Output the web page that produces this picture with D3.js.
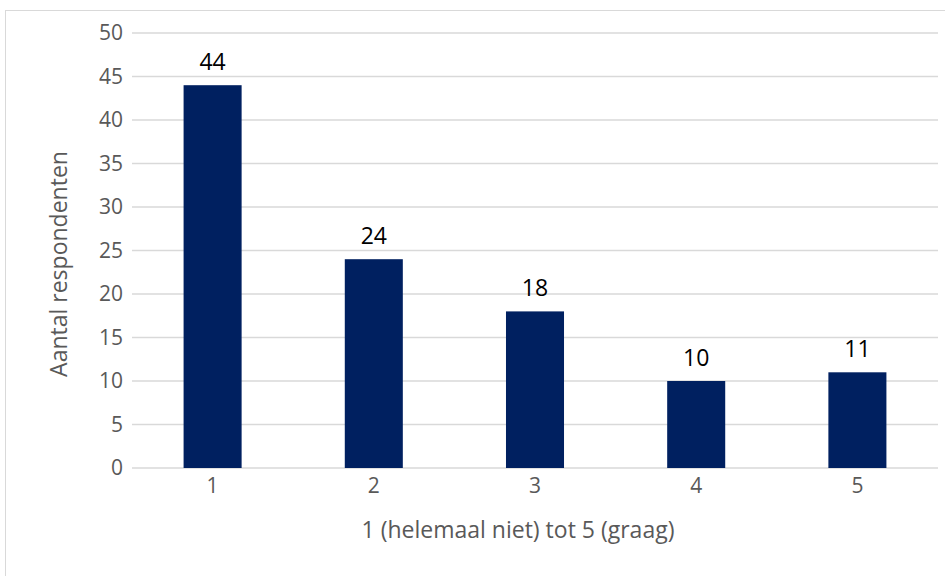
<!DOCTYPE html>
<html>
<head>
<meta charset="utf-8">
<script src="https://cdn.jsdelivr.net/npm/d3@7"></script>
<style>
  body { margin: 0; background: #fff; }
  text { font-family: "Open Sans", sans-serif; }
</style>
</head>
<body>
<div id="container"></div>
<script>
const categories = ["1", "2", "3", "4", "5"];
const values = [44, 24, 18, 10, 11];
const yTicks = [0, 5, 10, 15, 20, 25, 30, 35, 40, 45, 50];
const xTitle = "1 (helemaal niet) tot 5 (graag)";
const yTitle = "Aantal respondenten";

const W = 945;
const H = 576;
const margin = { top: 33, right: 7, bottom: 108, left: 132 };
const width = W - margin.left - margin.right;
const height = H - margin.top - margin.bottom;

const svg = d3
  .select("#container")
  .append("svg")
  .attr("width", W)
  .attr("height", H);

// chart frame
svg
  .append("rect")
  .attr("x", 5.5)
  .attr("y", 10.5)
  .attr("width", W + 10)
  .attr("height", H + 10)
  .attr("fill", "none")
  .attr("stroke", "#d9d9d9")
  .attr("stroke-width", 1);

const g = svg
  .append("g")
  .attr("transform", `translate(${margin.left},${margin.top})`);

const x = d3
  .scaleBand()
  .domain(categories)
  .range([0, width])
  .paddingInner(0.64)
  .paddingOuter(0.32);

const y = d3.scaleLinear().domain([0, 50]).range([height, 0]);

// gridlines
g.append("g")
  .selectAll("line")
  .data(yTicks)
  .join("line")
  .attr("x1", 0)
  .attr("x2", width)
  .attr("y1", (d) => y(d))
  .attr("y2", (d) => y(d))
  .attr("stroke", "#d9d9d9")
  .attr("stroke-width", 1.5);

// y axis labels
const yAxis = g
  .append("g")
  .call(d3.axisLeft(y).tickValues(yTicks).tickSize(0).tickPadding(9));
yAxis.select(".domain").remove();
yAxis
  .selectAll("text")
  .attr("fill", "#595959")
  .attr("font-size", 21)
  .attr("font-family", "'Open Sans', sans-serif");

// x axis labels
const xAxis = g
  .append("g")
  .attr("transform", `translate(0,${height})`)
  .call(d3.axisBottom(x).tickSize(0).tickPadding(10));
xAxis.select(".domain").remove();
xAxis
  .selectAll("text")
  .attr("fill", "#595959")
  .attr("font-size", 21)
  .attr("font-family", "'Open Sans', sans-serif");

// bars
const data = categories.map((c, i) => ({ c, v: values[i] }));
g.selectAll("rect.bar")
  .data(data)
  .join("rect")
  .attr("class", "bar")
  .attr("x", (d) => x(d.c))
  .attr("y", (d) => y(d.v))
  .attr("width", x.bandwidth())
  .attr("height", (d) => height - y(d.v))
  .attr("fill", "#002060");

// value labels
g.selectAll("text.val")
  .data(data)
  .join("text")
  .attr("class", "val")
  .attr("x", (d) => x(d.c) + x.bandwidth() / 2)
  .attr("y", (d) => y(d.v) - 15)
  .attr("text-anchor", "middle")
  .attr("font-size", 23)
  .attr("fill", "#000")
  .text((d) => d.v);

// axis titles
svg
  .append("text")
  .attr("x", margin.left + width / 2 - 17)
  .attr("y", 538)
  .attr("text-anchor", "middle")
  .attr("font-size", 23)
  .attr("fill", "#595959")
  .text(xTitle);

svg
  .append("text")
  .attr("transform", "translate(67,264) rotate(-90)")
  .attr("text-anchor", "middle")
  .attr("font-size", 23)
  .attr("fill", "#595959")
  .text(yTitle);
</script>
</body>
</html>
